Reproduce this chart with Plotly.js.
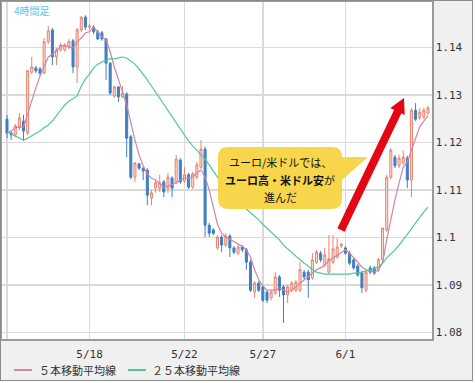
<!DOCTYPE html>
<html><head><meta charset="utf-8">
<script src="https://cdn.plot.ly/plotly-3.0.1.min.js"></script>
<style>
html,body{margin:0;padding:0;background:#fff;}
#frame{position:absolute;left:0;top:0;width:473px;height:381px;box-sizing:border-box;border:1px solid #8c8c8c;background:#f0f0f0;}
#chart{position:absolute;left:0;top:0;width:471px;height:379px;}
</style></head>
<body><div id="frame"><div id="chart"></div></div>
<script>
// 4-hour EUR/USD candles (one entry per bar)
const open = [1.1249,1.1220,1.1216,1.1231,1.1245,1.1220,1.1348,1.1357,1.1355,1.1346,
1.1412,1.1437,1.1380,1.1395,1.1395,1.1401,1.1414,1.1359,1.1437,1.1464,
1.1443,1.1443,1.1433,1.1431,1.1418,1.1367,1.1298,1.1317,1.1296,1.1302,
1.1212,1.1127,1.1155,1.1146,1.1142,1.1083,1.1104,1.1104,1.1117,1.1104,
1.1125,1.1117,1.1163,1.1119,1.1132,1.1106,1.1127,1.1148,1.1186,1.1026,
1.1016,1.0978,1.1001,1.0984,1.1003,1.0978,1.0967,1.0980,1.0974,1.0948,
1.0885,1.0904,1.0896,1.0885,1.0873,1.0883,1.0917,1.0896,1.0879,1.0889,
1.0889,1.0889,1.0927,1.0927,1.0915,1.0948,1.0967,1.0942,1.0927,1.0948,
1.0959,1.0982,1.0978,1.0967,1.0953,1.0940,1.0925,1.0889,1.0936,1.0936,
1.0932,1.0953,1.1016,1.1127,1.1169,1.1151,1.1157,1.1167,1.1121,1.1268,
1.1252,1.1254,1.1262];
const high = [1.1258,1.1224,1.1239,1.1262,1.1258,1.1353,1.1380,1.1361,1.1359,1.1420,
1.1445,1.1441,1.1399,1.1409,1.1409,1.1418,1.1418,1.1441,1.1466,1.1468,
1.1449,1.1447,1.1437,1.1435,1.1420,1.1369,1.1319,1.1319,1.1319,1.1306,
1.1216,1.1159,1.1157,1.1148,1.1146,1.1100,1.1121,1.1132,1.1121,1.1136,
1.1129,1.1174,1.1167,1.1148,1.1136,1.1138,1.1159,1.1205,1.1191,1.1031,
1.1020,1.1005,1.1005,1.1009,1.1007,1.0982,1.0984,1.0984,1.0978,1.0953,
1.0908,1.0908,1.0900,1.0889,1.0889,1.0927,1.0921,1.0900,1.0900,1.0908,
1.0911,1.0948,1.0932,1.0932,1.0967,1.0974,1.0972,1.0978,1.1005,1.1005,
1.0999,1.0988,1.0982,1.0972,1.0957,1.0944,1.0930,1.0932,1.0940,1.0940,
1.0957,1.1020,1.1132,1.1188,1.1174,1.1174,1.1184,1.1172,1.1273,1.1283,
1.1273,1.1273,1.1277];
const low = [1.1209,1.1205,1.1212,1.1226,1.1203,1.1216,1.1344,1.1346,1.1342,1.1344,
1.1407,1.1363,1.1363,1.1391,1.1391,1.1397,1.1346,1.1325,1.1433,1.1437,
1.1437,1.1428,1.1416,1.1414,1.1332,1.1300,1.1294,1.1285,1.1294,1.1169,
1.1123,1.1117,1.1142,1.1121,1.1068,1.1068,1.1094,1.1096,1.1085,1.1094,
1.1085,1.1113,1.1113,1.1115,1.1102,1.1102,1.1123,1.1144,1.1001,1.1001,
1.1005,1.0974,1.0969,1.0980,1.0959,1.0965,1.0963,1.0969,1.0932,1.0885,
1.0873,1.0885,1.0864,1.0862,1.0868,1.0879,1.0875,1.0820,1.0862,1.0885,
1.0885,1.0885,1.0911,1.0873,1.0911,1.0944,1.0948,1.0938,1.0923,1.0944,
1.0955,1.0978,1.0963,1.0942,1.0932,1.0917,1.0883,1.0885,1.0923,1.0921,
1.0927,1.0948,1.1012,1.1123,1.1146,1.1146,1.1153,1.1104,1.1085,1.1245,
1.1247,1.1249,1.1258];
const close = [1.1220,1.1216,1.1235,1.1252,1.1224,1.1351,1.1359,1.1351,1.1346,1.1412,
1.1435,1.1380,1.1395,1.1405,1.1405,1.1412,1.1359,1.1437,1.1464,1.1443,
1.1445,1.1433,1.1418,1.1418,1.1367,1.1304,1.1317,1.1296,1.1304,1.1209,
1.1127,1.1157,1.1146,1.1140,1.1089,1.1094,1.1115,1.1115,1.1096,1.1127,
1.1104,1.1165,1.1117,1.1132,1.1106,1.1134,1.1153,1.1186,1.1026,1.1009,
1.1009,1.1001,1.0984,1.1003,1.0978,1.0969,1.0980,1.0974,1.0948,1.0889,
1.0904,1.0889,1.0868,1.0868,1.0885,1.0917,1.0889,1.0879,1.0896,1.0904,
1.0906,1.0932,1.0917,1.0911,1.0953,1.0969,1.0953,1.0963,1.0955,1.0976,
1.0980,1.0986,1.0967,1.0946,1.0936,1.0921,1.0894,1.0927,1.0927,1.0925,
1.0953,1.1020,1.1127,1.1184,1.1151,1.1167,1.1169,1.1121,1.1268,1.1249,
1.1264,1.1268,1.1273];
// moving averages
const ma5 = [1.1220,1.1224,1.1231,1.1233,1.1233,1.1262,1.1289,1.1315,1.1340,1.1361,
1.1380,1.1386,1.1393,1.1403,1.1405,1.1401,1.1399,1.1412,1.1420,1.1431,
1.1433,1.1443,1.1433,1.1422,1.1416,1.1391,1.1359,1.1334,1.1306,1.1279,
1.1239,1.1205,1.1174,1.1151,1.1134,1.1125,1.1121,1.1113,1.1106,1.1108,
1.1111,1.1115,1.1121,1.1125,1.1125,1.1127,1.1136,1.1142,1.1127,1.1100,
1.1064,1.1028,1.1009,1.1001,1.0997,1.0991,1.0986,1.0982,1.0974,1.0959,
1.0932,1.0911,1.0898,1.0889,1.0889,1.0889,1.0894,1.0889,1.0885,1.0889,
1.0896,1.0902,1.0911,1.0917,1.0925,1.0932,1.0936,1.0942,1.0951,1.0957,
1.0963,1.0969,1.0974,1.0967,1.0957,1.0946,1.0938,1.0932,1.0929,1.0927,
1.0932,1.0946,1.0995,1.1041,1.1079,1.1115,1.1148,1.1159,1.1184,1.1209,
1.1233,1.1245,1.1256];
const ma25 = [1.1222,1.1218,1.1214,1.1209,1.1205,1.1209,1.1214,1.1218,1.1224,1.1231,
1.1237,1.1245,1.1256,1.1266,1.1279,1.1287,1.1292,1.1298,1.1319,1.1334,
1.1344,1.1357,1.1365,1.1369,1.1374,1.1376,1.1376,1.1378,1.1380,1.1378,
1.1372,1.1365,1.1355,1.1344,1.1332,1.1319,1.1306,1.1294,1.1281,1.1266,
1.1254,1.1241,1.1228,1.1216,1.1203,1.1193,1.1184,1.1176,1.1165,1.1153,
1.1140,1.1127,1.1117,1.1106,1.1096,1.1085,1.1075,1.1066,1.1060,1.1052,
1.1045,1.1037,1.1028,1.1020,1.1012,1.1003,1.0995,1.0984,1.0976,1.0967,
1.0959,1.0953,1.0946,1.0940,1.0932,1.0927,1.0925,1.0923,1.0923,1.0923,
1.0923,1.0923,1.0923,1.0923,1.0925,1.0925,1.0927,1.0929,1.0932,1.0934,
1.0938,1.0946,1.0957,1.0965,1.0974,1.0984,1.0995,1.1005,1.1018,1.1031,
1.1043,1.1054,1.1064];
const xTickBars = [0, 20, 43, 62, 82];
const xTickLabels = ['', '5/18', '5/22', '5/27', '6/1'];
const yTickVals = [1.08, 1.09, 1.10, 1.11, 1.12, 1.13, 1.14];
const yTickLabels = ['1.08', '1.09', '1.1', '1.11', '1.12', '1.13', '1.14'];
const seriesNames = ['５本移動平均線', '２５本移動平均線'];
const periodLabel = '4時間足';
const calloutLines = ['ユーロ/米ドルでは、', '<b>ユーロ高・米ドル安</b>が', '進んだ'];

const idx = open.map((_, i) => i);
const PINK = '#d084a8', GREEN = '#52c793';
const JP = 'Noto Sans CJK JP, Noto Sans, sans-serif';

// page pixel -> paper coords (for decorations only)
const PX = X => (X - 2) / 430;
const PY = Y => (339 - Y) / 337;
const P = (X, Y) => PX(X).toFixed(5) + ',' + PY(Y).toFixed(5);

const traces = [
  {type: 'candlestick', x: idx, open, high, low, close,
   increasing: {line: {color: '#e8836c', width: 1}, fillcolor: '#fbe1d9'},
   decreasing: {line: {color: '#3f7fc1', width: 1}, fillcolor: '#3f7fc1'},
   whiskerwidth: 0, hoverinfo: 'skip', showlegend: false},
  {type: 'scatter', mode: 'lines', x: idx, y: ma5, name: seriesNames[0],
   line: {color: PINK, width: 1.2}, showlegend: false, hoverinfo: 'skip'},
  {type: 'scatter', mode: 'lines', x: idx, y: ma25, name: seriesNames[1],
   line: {color: GREEN, width: 1.2}, showlegend: false, hoverinfo: 'skip'}
];

const calloutPath = 'M' + P(228,147) + 'L' + P(332,147) + 'Q' + P(342,147) + ' ' + P(342,157) +
  'L' + P(368,157) + 'L' + P(342,180) + 'L' + P(342,199) + 'Q' + P(342,209) + ' ' + P(332,209) +
  'L' + P(228,209) + 'Q' + P(218,209) + ' ' + P(218,199) + 'L' + P(218,157) + 'Q' + P(218,147) + ' ' + P(228,147) + 'Z';
const headPath = 'M' + P(404,98) + 'L' + P(390.3,108) + 'L' + P(404.7,115) + 'Z';

const layout = {
  width: 471, height: 379,
  margin: {l: 1, r: 40, t: 1, b: 41, pad: 0},
  paper_bgcolor: 'rgba(0,0,0,0)', plot_bgcolor: '#ffffff',
  showlegend: false,
  xaxis: {type: 'linear', range: [-1.21, 102.98], rangeslider: {visible: false},
    tickvals: xTickBars, ticktext: xTickLabels, ticks: '', ticklabelstandoff: 4,
    showgrid: true, gridcolor: '#dadada', gridwidth: 1.5, zeroline: false,
    showline: true, mirror: true, linecolor: '#9a9a9a', linewidth: 1.5,
    tickfont: {family: 'DejaVu Sans Mono', size: 11, color: '#333'}, fixedrange: true},
  yaxis: {side: 'right', range: [1.07863, 1.14958],
    tickvals: yTickVals, ticktext: yTickLabels, ticks: '',
    showgrid: true, gridcolor: '#dadada', gridwidth: 1.5, zeroline: false,
    showline: true, mirror: true, linecolor: '#9a9a9a', linewidth: 1.5,
    tickfont: {family: 'DejaVu Sans Mono', size: 11, color: '#333'}, fixedrange: true},
  shapes: [
    {type: 'path', xref: 'paper', yref: 'paper', path: calloutPath, fillcolor: '#f8d64c', line: {width: 0}, layer: 'above'},
    {type: 'line', xref: 'paper', yref: 'paper', x0: PX(341), y0: PY(230), x1: PX(398.5), y1: PY(110), line: {color: '#e30613', width: 8}, layer: 'above'},
    {type: 'path', xref: 'paper', yref: 'paper', path: headPath, fillcolor: '#e30613', line: {width: 0}, layer: 'above'},
    {type: 'line', xref: 'paper', yref: 'paper', x0: PX(14), x1: PX(32), y0: PY(370), y1: PY(370), line: {color: PINK, width: 2}},
    {type: 'line', xref: 'paper', yref: 'paper', x0: PX(128), x1: PX(146), y0: PY(370), y1: PY(370), line: {color: GREEN, width: 2}}
  ],
  annotations: [
    {xref: 'paper', yref: 'paper', x: PX(12), y: PY(10), text: periodLabel, showarrow: false,
     xanchor: 'left', yanchor: 'middle', font: {family: JP, size: 10, color: '#55c4f0'}},
    {xref: 'paper', yref: 'paper', x: PX(280), y: PY(162), text: calloutLines[0], showarrow: false,
     xanchor: 'center', yanchor: 'middle', font: {family: JP, size: 11, color: '#111'}},
    {xref: 'paper', yref: 'paper', x: PX(280), y: PY(180), text: calloutLines[1], showarrow: false,
     xanchor: 'center', yanchor: 'middle', font: {family: JP, size: 11, color: '#111'}},
    {xref: 'paper', yref: 'paper', x: PX(280), y: PY(197), text: calloutLines[2], showarrow: false,
     xanchor: 'center', yanchor: 'middle', font: {family: JP, size: 11, color: '#111'}},
    {xref: 'paper', yref: 'paper', x: PX(37), y: PY(370), text: seriesNames[0], showarrow: false,
     xanchor: 'left', yanchor: 'middle', font: {family: JP, size: 11, color: '#333'}},
    {xref: 'paper', yref: 'paper', x: PX(150), y: PY(370), text: seriesNames[1], showarrow: false,
     xanchor: 'left', yanchor: 'middle', font: {family: JP, size: 11, color: '#333'}}
  ]
};

Plotly.newPlot('chart', traces, layout, {staticPlot: true, displayModeBar: false});
</script>
</body></html>
